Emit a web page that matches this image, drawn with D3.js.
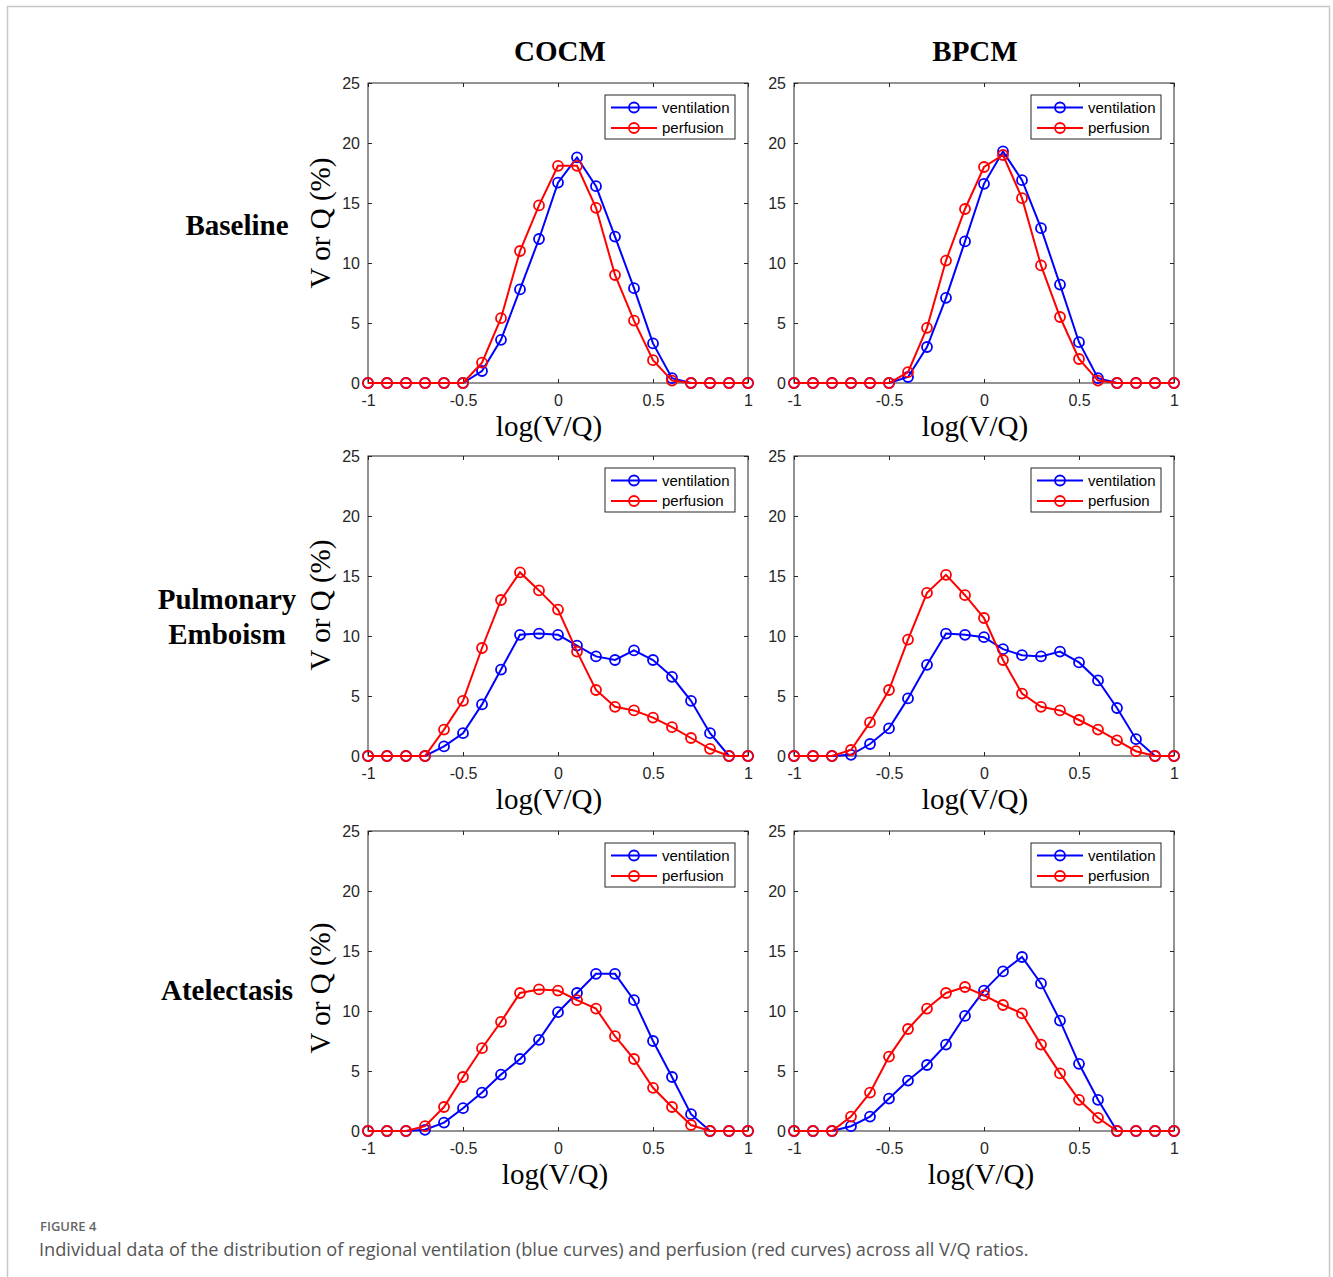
<!DOCTYPE html>
<html>
<head>
<meta charset="utf-8">
<script src="https://cdn.jsdelivr.net/npm/d3@7"></script>
<style>
    body { margin: 0; background: #fff; }
    svg { display: block; }
    .tick text { font-family: "Liberation Sans", Arial, sans-serif; font-size: 16px; fill: #262626; }
    .tick line { stroke: #262626; }
    .serif { font-family: "Liberation Serif", "Times New Roman", serif; fill: #000; }
    .legend text { font-family: "Liberation Sans", Arial, sans-serif; font-size: 15px; fill: #000; }
</style>
</head>
<body>
<svg width="1333" height="1277"></svg>
<script>
// bins of log(V/Q)
const logVQ = [-1, -0.9, -0.8, -0.7, -0.6, -0.5, -0.4, -0.3, -0.2, -0.1, 0,
               0.1, 0.2, 0.3, 0.4, 0.5, 0.6, 0.7, 0.8, 0.9, 1];

const cocmBaselineVent = [0, 0, 0, 0, 0, 0, 1.0, 3.6, 7.8, 12.0, 16.7, 18.8, 16.4, 12.2, 7.9, 3.3, 0.4, 0, 0, 0, 0];
const cocmBaselinePerf = [0, 0, 0, 0, 0, 0, 1.7, 5.4, 11.0, 14.8, 18.1, 18.1, 14.6, 9.0, 5.2, 1.9, 0.2, 0, 0, 0, 0];
const bpcmBaselineVent = [0, 0, 0, 0, 0, 0, 0.5, 3.0, 7.1, 11.8, 16.6, 19.3, 16.9, 12.9, 8.2, 3.4, 0.4, 0, 0, 0, 0];
const bpcmBaselinePerf = [0, 0, 0, 0, 0, 0, 0.9, 4.6, 10.2, 14.5, 18.0, 19.0, 15.4, 9.8, 5.5, 2.0, 0.2, 0, 0, 0, 0];

const cocmPEVent = [0, 0, 0, 0, 0.8, 1.9, 4.3, 7.2, 10.1, 10.2, 10.1, 9.2, 8.3, 8.0, 8.8, 8.0, 6.6, 4.6, 1.9, 0, 0];
const cocmPEPerf = [0, 0, 0, 0, 2.2, 4.6, 9.0, 13.0, 15.3, 13.8, 12.2, 8.7, 5.5, 4.1, 3.8, 3.2, 2.4, 1.5, 0.6, 0, 0];
const bpcmPEVent = [0, 0, 0, 0.1, 1.0, 2.3, 4.8, 7.6, 10.2, 10.1, 9.9, 8.9, 8.4, 8.3, 8.7, 7.8, 6.3, 4.0, 1.4, 0, 0];
const bpcmPEPerf = [0, 0, 0, 0.5, 2.8, 5.5, 9.7, 13.6, 15.1, 13.4, 11.5, 8.0, 5.2, 4.1, 3.8, 3.0, 2.2, 1.3, 0.4, 0, 0];

const cocmAtelVent = [0, 0, 0, 0.1, 0.7, 1.9, 3.2, 4.7, 6.0, 7.6, 9.9, 11.5, 13.1, 13.1, 10.9, 7.5, 4.5, 1.4, 0, 0, 0];
const cocmAtelPerf = [0, 0, 0, 0.4, 2.0, 4.5, 6.9, 9.1, 11.5, 11.8, 11.7, 10.9, 10.2, 7.9, 6.0, 3.6, 2.0, 0.5, 0, 0, 0];
const bpcmAtelVent = [0, 0, 0, 0.4, 1.2, 2.7, 4.2, 5.5, 7.2, 9.6, 11.7, 13.3, 14.5, 12.3, 9.2, 5.6, 2.6, 0, 0, 0, 0];
const bpcmAtelPerf = [0, 0, 0, 1.2, 3.2, 6.2, 8.5, 10.2, 11.5, 12.0, 11.3, 10.5, 9.8, 7.2, 4.8, 2.6, 1.1, 0, 0, 0, 0];

const columnTitles = ['COCM', 'BPCM'];
const rowTitles = [['Baseline'], ['Pulmonary', 'Emboism'], ['Atelectasis']];
const seriesNames = ['ventilation', 'perfusion'];
const seriesColors = ['#0000ff', '#ff0000'];
const xTicks = [-1, -0.5, 0, 0.5, 1];
const yTicks = [0, 5, 10, 15, 20, 25];

const panels = [
    [[cocmBaselineVent, cocmBaselinePerf], [bpcmBaselineVent, bpcmBaselinePerf]],
    [[cocmPEVent, cocmPEPerf], [bpcmPEVent, bpcmPEPerf]],
    [[cocmAtelVent, cocmAtelPerf], [bpcmAtelVent, bpcmAtelPerf]]
];

// layout
const colLeft = [368, 794],
    rowTop = [83, 456, 831],
    plotW = 380,
    plotH = 300,
    colTitleX = [560, 975],
    rowLabelX = [237, 227, 227],
    rowLabelY = [235, 626, 1000],
    yLabelCY = [223, 605, 988],
    xLabelDX = [-9, -9, -3];

let svg = d3.select('svg');

// outer frame
svg.append('path')
    .attr('d', `M7.5,1277 V6.5 H1329.5 V1277`)
    .attr('fill', 'none')
    .attr('stroke', '#c8c8c8')
    .attr('stroke-width', 1.5);

let x = d3.scaleLinear().domain([-1, 1]).range([0, plotW]),
    y = d3.scaleLinear().domain([0, 25]).range([plotH, 0]);

columnTitles.forEach((t, c) => {
    svg.append('text')
        .attr('class', 'serif')
        .attr('x', colTitleX[c])
        .attr('y', 61)
        .attr('text-anchor', 'middle')
        .attr('font-size', 29)
        .attr('font-weight', 'bold')
        .text(t);
});

rowTitles.forEach((lines, r) => {
    let t = svg.append('text')
        .attr('class', 'serif')
        .attr('text-anchor', 'middle')
        .attr('font-size', 29)
        .attr('font-weight', 'bold');
    lines.forEach((l, i) => {
        t.append('tspan')
            .attr('x', rowLabelX[r])
            .attr('y', rowLabelY[r] + (i - (lines.length - 1) / 2) * 35)
            .text(l);
    });
});

function drawPanel(g, series, r, c) {
    let line = d3.line()
        .x((d, i) => x(logVQ[i]))
        .y(d => y(d));

    g.append('g')
        .attr('transform', `translate(0, ${plotH})`)
        .call(d3.axisBottom(x).tickValues(xTicks).tickSize(-4).tickPadding(12).tickFormat(d => String(d)))
        .call(a => a.select('.domain').remove());
    g.append('g')
        .call(d3.axisTop(x).tickValues(xTicks).tickSize(-4).tickFormat(''))
        .call(a => a.select('.domain').remove());
    g.append('g')
        .call(d3.axisLeft(y).tickValues(yTicks).tickSize(-4).tickPadding(8))
        .call(a => a.select('.domain').remove());
    g.append('g')
        .attr('transform', `translate(${plotW}, 0)`)
        .call(d3.axisRight(y).tickValues(yTicks).tickSize(-4).tickFormat(''))
        .call(a => a.select('.domain').remove());

    g.append('rect')
        .attr('width', plotW)
        .attr('height', plotH)
        .attr('fill', 'none')
        .attr('stroke', '#262626')
        .attr('stroke-width', 1);

    series.forEach((vals, s) => {
        g.append('path')
            .datum(vals)
            .attr('d', line)
            .attr('fill', 'none')
            .attr('stroke', seriesColors[s])
            .attr('stroke-width', 2);
        g.append('g').selectAll('circle').data(vals).enter().append('circle')
            .attr('cx', (d, i) => x(logVQ[i]))
            .attr('cy', d => y(d))
            .attr('r', 5)
            .attr('fill', 'none')
            .attr('stroke', seriesColors[s])
            .attr('stroke-width', 1.8);
    });

    // legend
    let lg = g.append('g')
        .attr('class', 'legend')
        .attr('transform', `translate(${plotW - 143}, 12)`);
    lg.append('rect')
        .attr('width', 130)
        .attr('height', 44)
        .attr('fill', '#fff')
        .attr('stroke', '#262626')
        .attr('stroke-width', 1);
    seriesNames.forEach((n, s) => {
        let ry = 12.5 + s * 20.5;
        lg.append('line')
            .attr('x1', 6).attr('x2', 52)
            .attr('y1', ry).attr('y2', ry)
            .attr('stroke', seriesColors[s])
            .attr('stroke-width', 2);
        lg.append('circle')
            .attr('cx', 29).attr('cy', ry).attr('r', 5)
            .attr('fill', 'none')
            .attr('stroke', seriesColors[s])
            .attr('stroke-width', 1.8);
        lg.append('text')
            .attr('x', 57).attr('y', ry + 5)
            .text(n);
    });

    g.append('text')
        .attr('class', 'serif')
        .attr('x', plotW / 2 + xLabelDX[r])
        .attr('y', plotH + 53)
        .attr('text-anchor', 'middle')
        .attr('font-size', 29)
        .text('log(V/Q)');

    if (c === 0) {
        g.append('text')
            .attr('class', 'serif')
            .attr('transform', `translate(-38, ${yLabelCY[r] - rowTop[r]}) rotate(-90)`)
            .attr('text-anchor', 'middle')
            .attr('font-size', 29)
            .text('V or Q (%)');
    }
}

panels.forEach((row, r) => {
    row.forEach((series, c) => {
        let g = svg.append('g')
            .attr('transform', `translate(${colLeft[c]}, ${rowTop[r]})`);
        drawPanel(g, series, r, c);
    });
});

// caption
svg.append('text')
    .attr('x', 40).attr('y', 1231)
    .attr('font-family', '"Open Sans", "Noto Sans", sans-serif')
    .attr('font-size', 13)
    .attr('font-weight', 600)
    .attr('fill', '#666')
    .text('FIGURE 4');
svg.append('text')
    .attr('x', 39).attr('y', 1256)
    .attr('font-family', '"Open Sans", "Noto Sans", sans-serif')
    .attr('font-size', 18.2)
    .attr('fill', '#555')
    .text('Individual data of the distribution of regional ventilation (blue curves) and perfusion (red curves) across all V/Q ratios.');
</script>
</body>
</html>
